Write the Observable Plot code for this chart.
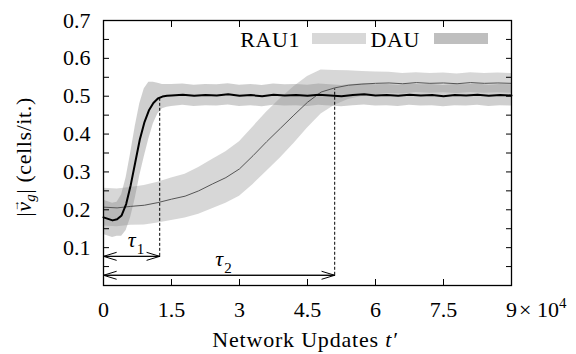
<!DOCTYPE html>
<html>
<head>
<meta charset="utf-8">
<script src="https://cdn.jsdelivr.net/npm/d3@7"></script>
<script src="https://cdn.jsdelivr.net/npm/@observablehq/plot@0.6"></script>
<style>
  body { margin: 0; background: #fff; }
  #chart { width: 576px; height: 354px; }
</style>
</head>
<body>
<div id="chart"></div>
<script>
// Group speed |v_g| over network updates (units of 10^4), mean ± spread.
const dauT = [0, 0.1, 0.2, 0.3, 0.4, 0.5, 0.6, 0.7, 0.8, 0.9, 1.0, 1.1, 1.2, 1.3, 1.4, 1.5,
  1.75, 2.0, 2.25, 2.5, 2.75, 3.0, 3.25, 3.5, 3.75, 4.0, 4.25, 4.5, 4.75, 5.0, 5.25,
  5.5, 5.75, 6.0, 6.25, 6.5, 6.75, 7.0, 7.25, 7.5, 7.75, 8.0, 8.25, 8.5, 8.75, 9.0];
const dauMean = [0.180, 0.176, 0.172, 0.175, 0.185, 0.215, 0.265, 0.325, 0.385, 0.430, 0.462, 0.482, 0.494, 0.499, 0.501, 0.502,
  0.504, 0.501, 0.503, 0.502, 0.505, 0.501, 0.503, 0.500, 0.504, 0.502, 0.503, 0.501, 0.504, 0.502, 0.500,
  0.503, 0.505, 0.502, 0.503, 0.501, 0.504, 0.502, 0.503, 0.500, 0.503, 0.502, 0.504, 0.501, 0.503, 0.502];
const dauSd = [0.045, 0.045, 0.045, 0.045, 0.055, 0.070, 0.085, 0.095, 0.095, 0.090, 0.075, 0.055, 0.040, 0.032, 0.030, 0.029,
  0.028, 0.028, 0.028, 0.028, 0.028, 0.028, 0.028, 0.028, 0.028, 0.028, 0.028, 0.028, 0.028, 0.028, 0.028,
  0.028, 0.028, 0.028, 0.028, 0.028, 0.028, 0.028, 0.028, 0.028, 0.028, 0.028, 0.028, 0.028, 0.028, 0.028];

const rauT = [0, 0.3, 0.6, 0.9, 1.2, 1.5, 1.8, 2.1, 2.4, 2.7, 3.0, 3.3, 3.6, 3.9, 4.2, 4.5,
  4.8, 5.1, 5.4, 5.7, 6.0, 6.3, 6.6, 6.9, 7.2, 7.5, 7.8, 8.1, 8.4, 8.7, 9.0];
const rauMean = [0.207, 0.205, 0.209, 0.212, 0.219, 0.228, 0.236, 0.250, 0.268, 0.285, 0.308, 0.343, 0.380, 0.415, 0.450, 0.484,
  0.511, 0.522, 0.529, 0.532, 0.534, 0.535, 0.533, 0.536, 0.534, 0.535, 0.533, 0.536, 0.534, 0.535, 0.534];
const rauSd = [0.050, 0.050, 0.050, 0.052, 0.054, 0.056, 0.058, 0.062, 0.065, 0.068, 0.072, 0.076, 0.078, 0.078, 0.075, 0.068,
  0.058, 0.046, 0.038, 0.033, 0.030, 0.028, 0.027, 0.026, 0.026, 0.026, 0.026, 0.026, 0.026, 0.026, 0.026];

// Relaxation times and their annotation levels
const tauNames = ["1", "2"];
const tauValues = [1.24, 5.1];
const tauArrowY = [0.077, 0.027];
const tauTopY = [0.492, 0.519];

const xTickValues = [0, 1.5, 3, 4.5, 6, 7.5, 9];
const yTickValues = [0.1, 0.2, 0.3, 0.4, 0.5, 0.6, 0.7];
const yMinorTicks = [0.05, 0.1, 0.15, 0.2, 0.25, 0.3, 0.35, 0.4, 0.45, 0.5, 0.55, 0.6, 0.65];

const dau = dauT.map((t, i) => ({t, m: dauMean[i], lo: dauMean[i] - dauSd[i], hi: dauMean[i] + dauSd[i]}));
const rau = rauT.map((t, i) => ({t, m: rauMean[i], lo: rauMean[i] - rauSd[i], hi: rauMean[i] + rauSd[i]}));
const taus = tauValues.map((tau, i) => ({name: tauNames[i], start: 0, tau, mid: tau / 2, y: tauArrowY[i], top: tauTopY[i]}));

const serif = "'Liberation Serif', serif";
const innerX = xTickValues.filter(d => d > 0 && d < 9);

const chart = Plot.plot({
  width: 576,
  height: 354,
  marginLeft: 103,
  marginRight: 65,
  marginTop: 20,
  marginBottom: 69,
  style: `font-family: ${serif}; font-size: 22px; background: white; color: black;`,
  x: {domain: [0, 9]},
  y: {domain: [0, 0.7]},
  marks: [
    Plot.areaY(rau, {x: "t", y1: "lo", y2: "hi", fill: "#b0b0b0", fillOpacity: 0.5}),
    Plot.areaY(dau, {x: "t", y1: "lo", y2: "hi", fill: "#8c8c8c", fillOpacity: 0.42}),
    Plot.line(rau, {x: "t", y: "m", stroke: "#555", strokeWidth: 1}),
    Plot.line(dau, {x: "t", y: "m", stroke: "black", strokeWidth: 2}),
    Plot.ruleX(taus, {x: "tau", y1: "y", y2: "top", stroke: "black", strokeWidth: 1, strokeDasharray: "3,2"}),
    Plot.arrow(taus, {x1: "start", x2: "tau", y1: "y", y2: "y", stroke: "black", strokeWidth: 1, headLength: 20, headAngle: 34}),
    Plot.arrow(taus, {x1: "tau", x2: "start", y1: "y", y2: "y", stroke: "black", strokeWidth: 1, headLength: 20, headAngle: 34}),
    Plot.text(taus, {x: "mid", y: "y", text: () => "τ", fontStyle: "italic", fontSize: 22, dy: -16, dx: 0}),
    Plot.text(taus, {x: "mid", y: "y", text: "name", fontSize: 15, dy: -7, dx: 9}),
    Plot.frame({stroke: "black", strokeWidth: 1.3}),
    // inward ticks on all four sides
    Plot.axisX({anchor: "bottom", ticks: innerX, tickSize: -6, tickFormat: () => "", label: null}),
    Plot.axisX({anchor: "top", ticks: innerX, tickSize: -6, tickFormat: () => "", label: null}),
    Plot.axisY({anchor: "left", ticks: yMinorTicks, tickSize: -6, tickFormat: () => "", label: null}),
    Plot.axisY({anchor: "right", ticks: yMinorTicks, tickSize: -6, tickFormat: () => "", label: null}),
    // tick labels
    Plot.axisX({anchor: "bottom", ticks: xTickValues, tickSize: 0, tickPadding: 16, tickFormat: d => String(d), label: null, fontSize: 22}),
    Plot.axisY({anchor: "left", ticks: yTickValues, tickSize: 0, tickPadding: 13, tickFormat: d => d.toFixed(1), label: null, fontSize: 22})
  ]
});

document.getElementById("chart").appendChild(chart);

const svg = d3.select(chart);
const xs = chart.scale("x");

// exponent next to the last x tick label
const expo = svg.append("text")
  .attr("x", xs.apply(9) + 8).attr("y", 317).attr("text-anchor", "start")
  .attr("font-size", 22).attr("fill", "black");
expo.append("tspan").text("× 10");
expo.append("tspan").attr("font-size", 15).attr("dy", -9).text("4");

// x-axis title
const xt = svg.append("text")
  .attr("x", 305).attr("y", 347).attr("text-anchor", "middle")
  .attr("font-size", 22).attr("letter-spacing", 0.8).attr("fill", "black");
xt.append("tspan").text("Network Updates ");
xt.append("tspan").attr("font-style", "italic").text("t′");

// y-axis title
const yt = svg.append("text")
  .attr("transform", "translate(31,157) rotate(-90)").attr("text-anchor", "middle")
  .attr("font-size", 22).attr("letter-spacing", 0.6).attr("fill", "black");
yt.append("tspan").text("|");
yt.append("tspan").attr("font-style", "italic").text("v");
yt.append("tspan").attr("font-size", 12).attr("dx", -10).attr("dy", -12).text("→");
yt.append("tspan").attr("font-style", "italic").attr("font-size", 15).attr("dx", -3).attr("dy", 16).text("g");
yt.append("tspan").attr("dy", -4).text("| (cells/it.)");

// legend
const legend = [
  {label: "RAU1", textEnd: 300, x: 312, fill: "#d8d8d8"},
  {label: "DAU", textEnd: 420, x: 434, fill: "#bfbfbf"}
];
for (const l of legend) {
  svg.append("text").attr("x", l.textEnd).attr("y", 47).attr("text-anchor", "end")
    .attr("font-size", 22).attr("letter-spacing", 0.6).attr("fill", "black").text(l.label);
  svg.append("rect").attr("x", l.x).attr("y", 33).attr("width", 54).attr("height", 11).attr("fill", l.fill);
}

// serif face on every label
svg.selectAll("text").style("font-family", serif);
</script>
</body>
</html>
